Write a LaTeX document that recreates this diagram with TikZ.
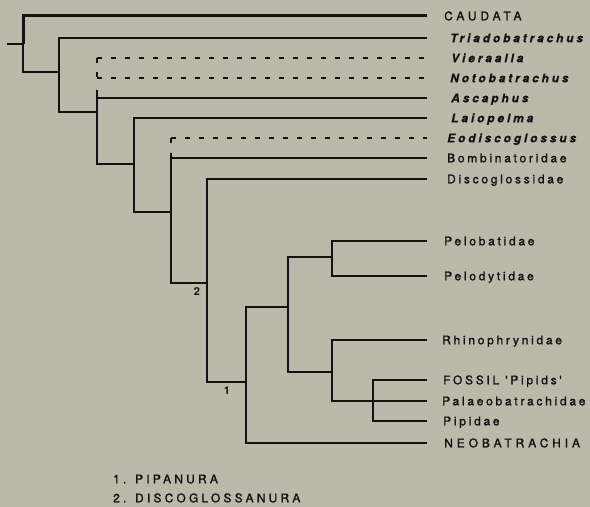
\documentclass[tikz,border=0pt]{standalone}
\usepackage{fontspec}
\setmainfont{TeX Gyre Heros}
\newfontfamily\taxonfont[LetterSpace=23, FakeBold=1.4]{TeX Gyre Heros}
\newfontfamily\capsfont[LetterSpace=33, FakeBold=1.4]{TeX Gyre Heros}
\newfontfamily\genusfont[LetterSpace=24, FakeBold=0.6]{TeX Gyre Heros}
\newfontfamily\keyfont[LetterSpace=27, FakeBold=1.4]{TeX Gyre Heros}
\usetikzlibrary{positioning}
\definecolor{paper}{RGB}{188,184,170}
\definecolor{ink}{RGB}{18,18,18}

\begin{document}
\begin{tikzpicture}[x=1bp, y=-1bp,
		branch/.style={draw=ink, line width=2bp},
		fossil/.style={branch, dash pattern=on 5bp off 9bp},
		taxon/.style={anchor=west, inner sep=0pt, text=ink, text height=8.6bp, text depth=0bp,
			font=\fontsize{12}{14}\taxonfont},
		group/.style={taxon, font=\fontsize{12}{14}\capsfont},
		genus/.style={taxon, font=\fontsize{12}{14}\genusfont\bfseries\itshape},
		cladenum/.style={inner sep=0pt, text=ink, font=\fontsize{11}{13}\selectfont\bfseries},
		keyline/.style={taxon, font=\fontsize{12}{14}\keyfont}]

	% Paper and frame
	\path[use as bounding box, fill=paper] (0,0) rectangle (590,507);

	% Tips (all branches end at the same x)
	\coordinate (caudata) at (427,16);
	\coordinate (triad) at (427,38);
	\coordinate (vier) at (427,58);
	\coordinate (noto) at (427,78);
	\coordinate (asca) at (427,98);
	\coordinate (laio) at (427,118);
	\coordinate (eodis) at (427,138);
	\coordinate (bomb) at (427,158);
	\coordinate (discog) at (427,179);
	\coordinate (pelob) at (427,241);
	\coordinate (pelod) at (427,276);
	\coordinate (rhino) at (427,340);
	\coordinate (fpip) at (427,380);
	\coordinate (palaeo) at (427,401);
	\coordinate (pipid) at (427,421);
	\coordinate (neo) at (427,443);

	% Inner nodes
	\coordinate (stem) at (7,44);
	\coordinate (n1) at (23,44);
	\coordinate (n2) at (59,72);
	\coordinate (n3) at (97,112);
	\coordinate (n3top) at (97,90);
	\coordinate (n3dash) at (97,84);
	\coordinate (n4) at (134,164);
	\coordinate (n5) at (171,212);
	\coordinate (n5top) at (171,153);
	\coordinate (n5dash) at (171,147);
	\coordinate (n6) at (207,283);
	\coordinate (n7) at (246,382);
	\coordinate (n8) at (288,307);
	\coordinate (n9) at (332,257);
	\coordinate (n10) at (332,372);
	\coordinate (n11) at (373,401);

	% Draw the tree
	\draw[branch] (stem) -- (n1);
	\draw[branch, line width=3bp] (caudata) -| (n1);
	\draw[branch] (n1) |- (n2);
	\draw[branch] (triad) -| (n2) |- (n3);
	% fossil taxa, dashed
	\draw[fossil] (n3 |- vier) -- (vier);
	\draw[fossil] (n3 |- noto) -- (noto);
	\draw[fossil] (n3 |- vier) -- (n3dash);
	\draw[fossil] (n5 |- eodis) -- (eodis);
	\draw[fossil] (n5 |- eodis) -- (n5dash);
	\draw[branch] (asca) -| (n3top) -- (n3) |- (n4);
	\draw[branch] (laio) -| (n4) |- (n5);
	\draw[branch] (bomb) -| (n5top) -- (n5) |- (n6);
	\draw[branch] (discog) -| (n6) |- (n7);
	\draw[branch] (n8) -| (n7) |- (neo);
	\draw[branch] (n9) -| (n8) |- (n10);
	\draw[branch] (pelob) -| (n9) |- (pelod);
	\draw[branch] (rhino) -| (n10) |- (palaeo);
	\draw[branch] (fpip) -| (n11) |- (pipid);

	% Clade numbers
	\node[cladenum] (num2) at (197,292) {2};
	\node[cladenum] (num1) at (227,391) {1};

	% Taxon names
	\node[group, right=17bp of caudata] (lcaudata) {CAUDATA};
	\node[genus, right=23bp of triad] (ltriad) {Triadobatrachus};
	\node[genus, right=24bp of vier] (lvier) {Vieraalla};
	\node[genus, right=23bp of noto] (lnoto) {Notobatrachus};
	\node[genus, right=24bp of asca] (lasca) {Ascaphus};
	\node[genus, right=24bp of laio] (llaio) {Laiopelma};
	\node[genus, right=20bp of eodis] (leodis) {Eodiscoglossus};
	\node[taxon, right=20bp of bomb] (lbomb) {Bombinatoridae};
	\node[taxon, right=20bp of discog] (ldiscog) {Discoglossidae};
	\node[taxon, right=17bp of pelob] (lpelob) {Pelobatidae};
	\node[taxon, right=17bp of pelod] (lpelod) {Pelodytidae};
	\node[taxon, right=15bp of rhino] (lrhino) {Rhinophrynidae};
	\node[taxon, right=16bp of fpip] (lfpip) {FOSSIL 'Pipids'};
	\node[taxon, right=15bp of palaeo] (lpalaeo) {Palaeobatrachidae};
	\node[taxon, right=16bp of pipid] (lpipid) {Pipidae};
	\node[group, right=17bp of neo] (lneo) {NEOBATRACHIA};

	% Key
	\node[keyline] (key1) at (113,479) {1. PIPANURA};
	\node[keyline] (key2) at (113,498) {2. DISCOGLOSSANURA};
\end{tikzpicture}
\end{document}
